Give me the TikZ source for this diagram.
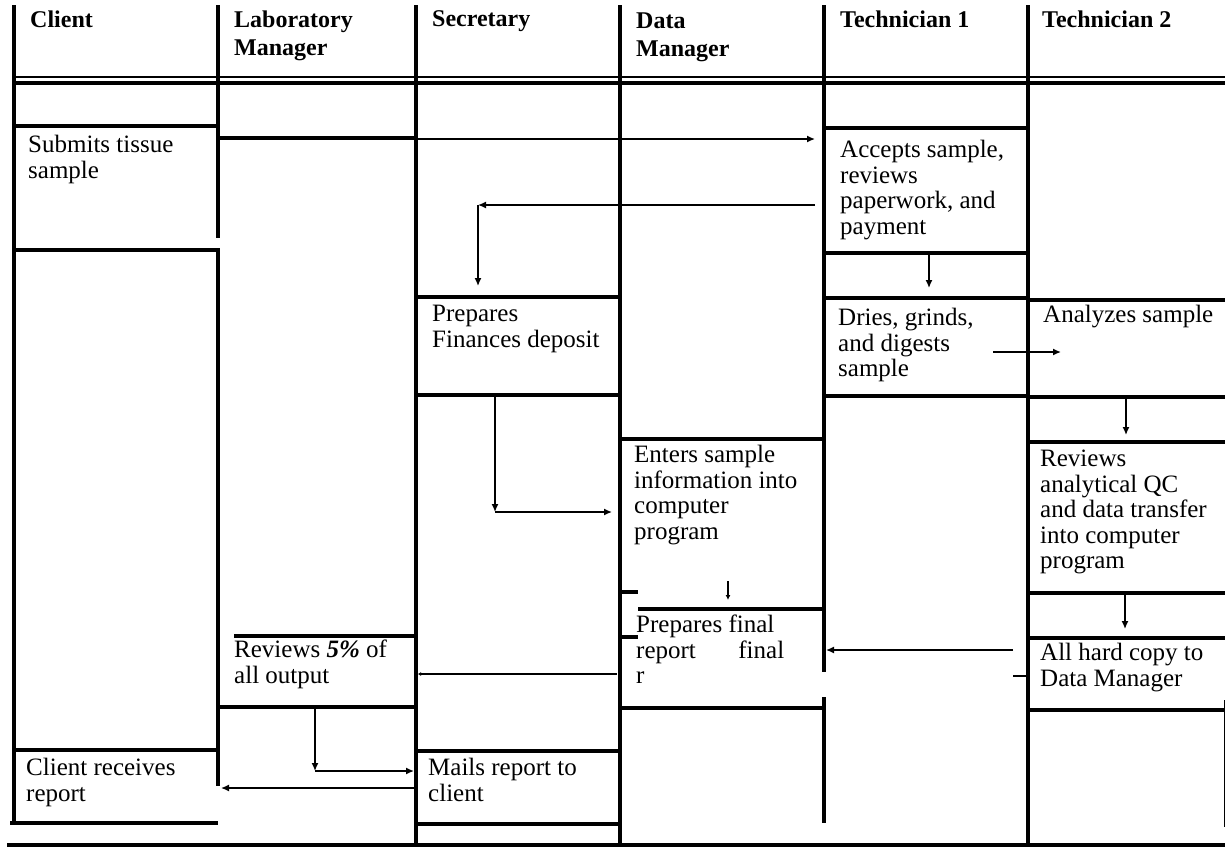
\documentclass[tikz,border=0pt]{standalone}
\usepackage{fontspec}
\setmainfont{Liberation Serif}
\usetikzlibrary{arrows.meta}

\begin{document}
\begin{tikzpicture}[x=1pt, y=-1pt,
  lane/.style={line width=4pt},
  rule/.style={line width=4pt},
  thinrule/.style={line width=1.8pt},
  ar/.style={line width=1.4pt, -{Latex[length=8pt,width=7pt]}},
  small ar/.style={line width=1.2pt, -{Latex[length=5pt,width=5pt]}},
  head/.style={anchor=north west, inner sep=0pt, align=left,
               font=\fontsize{24}{28}\selectfont\bfseries},
  task/.style={anchor=north west, inner sep=0pt, align=left,
               font=\fontsize{25}{25.5}\selectfont}
]
\useasboundingbox (0,0) rectangle (1225,849);

% swim lanes
\foreach \x/\a/\b in {14/5/823, 218/5/238, 218/248/786, 416/5/845, 620/5/845,
                      824/5/672, 824/697/823, 1028/5/845}
  \draw[lane] (\x,\a) -- (\x,\b);
\draw[thinrule] (14,77) -- (1225,77);
\draw[rule] (14,83) -- (1225,83);
\draw[rule] (7,845) -- (1225,845);
\draw[thinrule] (218,137) -- (416,137);
\draw[line width=0.8pt] (1224,700) -- (1224,827);

% box edges
\foreach \y/\a/\b in {126/14/218, 250/14/218, 750/14/218, 823/10/218,
                      636/234/416, 707/218/416,
                      297/416/620, 395/416/620, 751/416/620, 824/416/620,
                      439/622/824, 592/620/638, 609/638/824, 637/620/638, 708/620/824,
                      128/824/1028, 253/824/1028, 298/824/1028, 396/824/1028,
                      300/1028/1225, 397/1028/1225, 442/1028/1225, 593/1028/1225,
                      638/1028/1225, 710/1028/1225}
  \draw[rule] (\a,\y) -- (\b,\y);

% headings
\node[head] (hclient) at (30,10.5) {Client};
\node[head] (hlab) at (234,10.5) {Laboratory\\Manager};
\node[head] (hsec) at (432,10.5) {Secretary};
\node[head] (hdm) at (636,12.5) {Data\\Manager};
\node[head] (htech1) at (840,10.5) {Technician 1};
\node[head] (htech2) at (1042,10.5) {Technician 2};

% tasks
\node[task] (submit) at (28,135) {Submits tissue\\sample};
\node[task] (accept) at (840,140) {Accepts sample,\\reviews\\paperwork, and\\payment};
\node[task] (deposit) at (432,305) {Prepares\\Finances deposit};
\node[task] (dries) at (838,308) {Dries, grinds,\\and digests\\sample};
\node[task] (analyze) at (1043,305) {Analyzes sample};
\node[task] (enter) at (634,445) {Enters sample\\information into\\computer\\program};
\node[task] (qc) at (1040,450) {Reviews\\analytical QC\\and data transfer\\into computer\\program};
\node[task] (final) at (636,615) {Prepares final\\report\hspace{1.7em}final\\r};
\node[task] (review) at (234,640) {Reviews \textbf{\textit{5\%}} of\\all output};
\node[task] (hardcopy) at (1040,643) {All hard copy to\\Data Manager};
\node[task] (receive) at (26,758) {Client receives\\report};
\node[task] (mail) at (428,758) {Mails report to\\client};

% connector ends
\coordinate (submit-out) at (218,139);
\coordinate (accept-in) at (815,139);
\coordinate (accept-out) at (815,205);
\coordinate (deposit-turn) at (478,205);
\coordinate (deposit-in) at (478,286);
\coordinate (accept-down) at (929,253);
\coordinate (dries-in) at (929,288);
\coordinate (deposit-out) at (495,395);
\coordinate (enter-turn) at (495,512);
\coordinate (enter-in) at (612,512);
\coordinate (dries-out) at (993,352);
\coordinate (analyze-in) at (1061,352);
\coordinate (analyze-out) at (1126,397);
\coordinate (qc-in) at (1126,435);
\coordinate (enter-out) at (728,581);
\coordinate (final-in) at (728,600);
\coordinate (qc-out) at (1125,593);
\coordinate (hardcopy-in) at (1125,629);
\coordinate (hardcopy-out) at (1013,650);
\coordinate (final-east) at (826,650);
\coordinate (final-out) at (617,674);
\coordinate (review-in) at (418,674);
\coordinate (review-out) at (315,707);
\coordinate (mail-turn) at (315,771);
\coordinate (mail-in) at (414,771);
\coordinate (mail-out) at (416,788);
\coordinate (receive-in) at (221,788);

\draw[ar] (submit-out) -- (accept-in);
\draw[ar] (accept-out) -- (deposit-turn);
\draw[ar] (deposit-turn) -- (deposit-in);
\draw[ar] (accept-down) -- (dries-in);
\draw[ar] (deposit-out) -- (enter-turn);
\draw[ar] (enter-turn) -- (enter-in);
\draw[ar] (dries-out) -- (analyze-in);
\draw[ar] (analyze-out) -- (qc-in);
\draw[small ar] (enter-out) -- (final-in);
\draw[ar] (qc-out) -- (hardcopy-in);
\draw[ar] (hardcopy-out) -- (final-east);
\draw[line width=1.2pt] (hardcopy-out |- 0,676) -- (1028,676);
\draw[line width=1.2pt, -{Latex[length=3pt,width=4pt]}] (final-out) -- (review-in);
\draw[ar] (review-out) -- (mail-turn);
\draw[ar] (mail-turn) -- (mail-in);
\draw[ar] (mail-out) -- (receive-in);
\end{tikzpicture}
\end{document}
